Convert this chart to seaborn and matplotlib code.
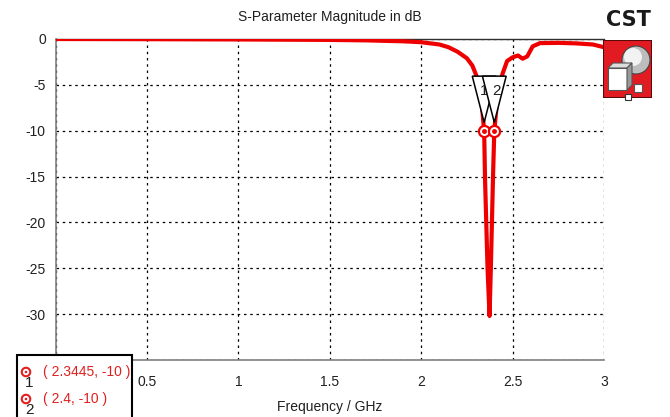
import matplotlib
matplotlib.use("Agg")
import matplotlib.pyplot as plt
from matplotlib.patches import Rectangle, Polygon, Circle, Ellipse
import seaborn as sns
import pandas as pd

# S11 sweep (GHz, dB)
freq = [0.0, 0.5, 1.0, 1.5, 1.7, 1.9, 2.0, 2.1, 2.15, 2.2, 2.25, 2.28, 2.30,
        2.315, 2.33, 2.3445, 2.349, 2.356, 2.363, 2.374, 2.381, 2.387, 2.393,
        2.4, 2.415, 2.43, 2.445, 2.47, 2.50, 2.53, 2.555, 2.58, 2.61, 2.65,
        2.75, 2.85, 2.94, 3.0]
s11_db = [0.0, -0.02, -0.05, -0.1, -0.15, -0.25, -0.35, -0.6, -0.9, -1.4,
          -2.1, -2.9, -3.9, -5.0, -6.8, -10.0, -15.0, -20.0, -25.0, -30.2,
          -25.0, -20.0, -15.0, -10.0, -6.8, -5.0, -3.8, -2.4, -2.0, -1.8,
          -2.15, -1.9, -0.8, -0.45, -0.42, -0.48, -0.6, -0.9]

# Markers
marker_ids = ["1", "2"]
marker_freq = [2.3445, 2.4]
marker_db = [-10.0, -10.0]

xticks = [0, 0.5, 1, 1.5, 2, 2.5, 3]
# the x = 0 label sits under the marker readout box, so it is left blank
xticklabels = ["", "0.5", "1", "1.5", "2", "2.5", "3"]
yticks = [0, -5, -10, -15, -20, -25, -30, -35]

sns.set_style("white")
plt.rcParams["font.family"] = ["Liberation Sans", "DejaVu Sans"]
FS = 10

W, H = 670, 417
fig = plt.figure(figsize=(W / 100, H / 100), dpi=100)
ax = fig.add_axes([55.5 / W, 1 - 360 / H, (604 - 55.5) / W, (360 - 39) / H])

df = pd.DataFrame({"Frequency": freq, "S11": s11_db})
sns.lineplot(data=df, x="Frequency", y="S11", ax=ax, color="#ee0000",
             lw=3.0, sort=False, estimator=None, zorder=3)

ax.set_xlim(0, 3)
ax.set_ylim(-35, 0)
ax.set_xticks(xticks)
ax.set_xticklabels(xticklabels)
ax.set_yticks(yticks)
ax.set_yticklabels([f"{t:g}" for t in yticks])
ax.tick_params(axis="x", direction="out", length=4, width=1, color="#808080",
               labelsize=FS, pad=7, labelcolor="#202020")
ax.tick_params(axis="y", direction="out", length=4, width=1, color="#808080",
               labelsize=FS, pad=3, labelcolor="#202020")
ax.grid(True, color="black", linestyle=(0, (2, 3)), linewidth=0.9)
for side in ["left", "bottom"]:
    ax.spines[side].set_color("#808080")
    ax.spines[side].set_linewidth(1.2)
ax.spines["top"].set_color("#303030")
ax.spines["top"].set_linewidth(1)
ax.spines["right"].set_visible(False)
ax.set_xlabel("Frequency / GHz", fontsize=FS, color="#202020", labelpad=8)
ax.set_ylabel("")
ax.set_title("S-Parameter Magnitude in dB", fontsize=FS, color="#202020", pad=13)

# Marker flags: white inverted triangles pointing at each marker
tri_w = 0.065
for mid, mf, md in zip(marker_ids, marker_freq, marker_db):
    tri = Polygon([(mf - tri_w, -4.05), (mf + tri_w, -4.05), (mf, md + 0.9)],
                  closed=True, facecolor="white", edgecolor="black", lw=1.1,
                  zorder=4)
    ax.add_patch(tri)
for mid, mf, dx in zip(marker_ids, marker_freq, [0.0, 0.012]):
    ax.text(mf + dx, -5.7, mid, ha="center", va="center", fontsize=FS + 1,
            color="#202020", zorder=6)
ax.plot(marker_freq, marker_db, ls="none", marker="o", ms=8, mfc="white",
        mec="#ee0000", mew=1.6, zorder=7)
ax.plot(marker_freq, marker_db, ls="none", marker="o", ms=2.5, color="#ee0000",
        zorder=8)

# Marker readout box
box = Rectangle((17 / W, -0.1), 115 / W, 0.1 + (1 - 355 / H),
                transform=fig.transFigure, facecolor="white", edgecolor="black",
                lw=1.5, zorder=10)
fig.add_artist(box)
for i, (mid, mf, md) in enumerate(zip(marker_ids, marker_freq, marker_db)):
    cy = 372 + i * 27
    fig.add_artist(Ellipse((26 / W, 1 - cy / H), 8.5 / W, 8.5 / H,
                           transform=fig.transFigure, facecolor="white",
                           edgecolor="#e02020", lw=1.5, zorder=11))
    fig.add_artist(Ellipse((26 / W, 1 - cy / H), 2.6 / W, 2.6 / H,
                           transform=fig.transFigure, facecolor="#e02020",
                           edgecolor="none", zorder=12))
    fig.text(29 / W, 1 - (cy + 11) / H, mid, ha="center", va="center",
             fontsize=FS + 1, color="#202020", zorder=12)
    fig.text(43 / W, 1 - cy / H, f"( {mf:g}, {md:g} )", ha="left", va="center",
             fontsize=FS, color="#e02020", zorder=12)

# Vendor logo
fig.text(628 / W, 1 - 20 / H, "CST", ha="center", va="center", fontsize=15,
         fontweight="bold", color="#1a1a1a", family=["DejaVu Sans"])
logo = fig.add_axes([603 / W, 1 - 98 / H, 49 / W, 58 / H])
logo.set_xlim(0, 49)
logo.set_ylim(0, 58)
logo.axis("off")
logo.add_patch(Rectangle((0, 0), 49, 58, facecolor="#e21b22", edgecolor="#5a0a0a",
                         lw=1.5))
logo.add_patch(Circle((33, 38), 14, facecolor="#bdbdbd", edgecolor="#444444", lw=0.8))
logo.add_patch(Circle((30, 41), 9, facecolor="#f2f2f2", edgecolor="none"))
logo.add_patch(Polygon([(5, 8), (24, 8), (24, 30), (5, 30)], facecolor="white",
                       edgecolor="#555555", lw=0.8))
logo.add_patch(Polygon([(5, 30), (10, 35), (29, 35), (24, 30)], facecolor="#dddddd",
                       edgecolor="#555555", lw=0.8))
logo.add_patch(Polygon([(24, 8), (29, 13), (29, 35), (24, 30)], facecolor="#999999",
                       edgecolor="#555555", lw=0.8))
logo.add_patch(Polygon([(31, 6), (39, 6), (39, 14), (31, 14)], facecolor="white",
                       edgecolor="#555555", lw=0.8))
logo.add_patch(Polygon([(22, -2), (28, -2), (28, 4), (22, 4)], facecolor="white",
                       edgecolor="#333333", lw=0.8, clip_on=False))

fig.savefig("out.png", dpi=100)
